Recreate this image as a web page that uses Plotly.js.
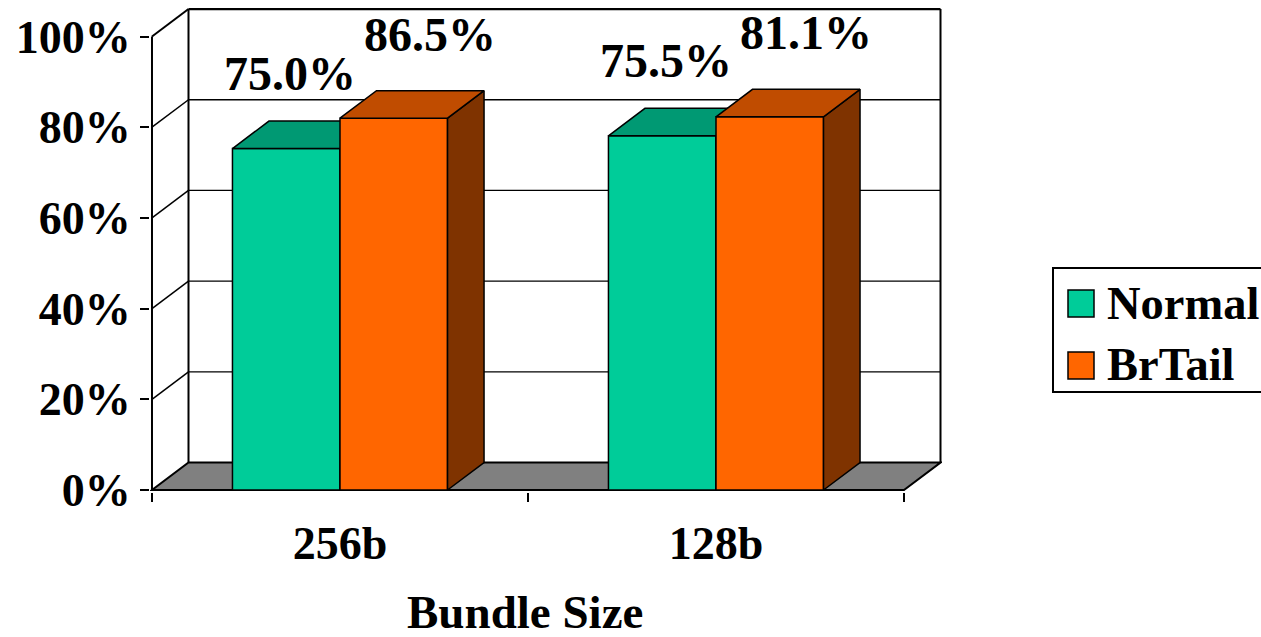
<!DOCTYPE html>
<html>
<head>
<meta charset="utf-8">
<script src="https://cdn.plot.ly/plotly-3.0.1.min.js"></script>
<style>html,body{margin:0;padding:0;background:#fff;}#chart{width:1261px;height:637px;}</style>
</head>
<body>
<div id="chart"></div>
<script>
// ---- data ----
const categories = ['256b', '128b'];
const seriesNames = ['Normal', 'BrTail'];
const normalValues = [75.3, 78.1];
const brtailValues = [82.0, 82.3];
const normalLabels = ['75.0%', '75.5%'];
const brtailLabels = ['86.5%', '81.1%'];
const yTickVals = [0, 20, 40, 60, 80, 100];
const yTickText = ['0%', '20%', '40%', '60%', '80%', '100%'];
const xTitle = 'Bundle Size';

// ---- style ----
const FAMILY = 'Liberation Serif, Times New Roman, serif';
const FONT = {family: FAMILY, size: 46, color: '#000', weight: 'bold'};
const LABEL_FONT = {family: FAMILY, size: 48, color: '#000', weight: 'bold'};
const LEGEND_FONT = {family: FAMILY, size: 46.5, color: '#000', weight: 'bold'};
const TITLE_FONT = {family: FAMILY, size: 47, color: '#000', weight: 'bold'};
const colors = {
  Normal: {front: '#00CC99', top: '#009973', side: '#006B50'},
  BrTail: {front: '#FF6600', top: '#C04C00', side: '#7F3300'}
};
const W = 0.286;          // bar width (category units)
const DX = 0.0971;        // depth offset x (category units)
const DY = 6.06;          // depth offset y (percent units)
const XR = [-0.5053, 1.6011];
const YR = [-0.441, 106.29];
const M = {l: 150, r: 319, t: 8, b: 145};
const PW = 1261 - M.l - M.r, PH = 637 - M.t - M.b;
const px = v => (v - M.l) / PW;
const py = v => (637 - M.b - v) / PH;

const traces = [];
function addSeries(name, values, offsetSign, xa, ya) {
  const c = colors[name];
  const xs = categories.map((_, i) => i);
  traces.push({
    type: 'bar', name: name, x: xs, y: values, base: 0,
    offset: offsetSign < 0 ? -W : 0, width: W,
    marker: {color: c.front, line: {color: '#000', width: 1.5}},
    xaxis: xa, yaxis: ya, showlegend: false, hoverinfo: 'name+y'
  });
  values.forEach((h, i) => {
    const x0 = i + (offsetSign < 0 ? -W : 0), x1 = x0 + W;
    // side face
    traces.push({
      type: 'scatter', mode: 'lines', fill: 'toself', fillcolor: c.side,
      x: [x1, x1, x1 + DX, x1 + DX, x1], y: [0, h, h + DY, DY, 0],
      line: {color: '#000', width: 1.5}, xaxis: xa, yaxis: ya, showlegend: false, hoverinfo: 'skip'
    });
    // top face
    traces.push({
      type: 'scatter', mode: 'lines', fill: 'toself', fillcolor: c.top,
      x: [x0, x1, x1 + DX, x0 + DX, x0], y: [h, h, h + DY, h + DY, h],
      line: {color: '#000', width: 1.5}, xaxis: xa, yaxis: ya, showlegend: false, hoverinfo: 'skip'
    });
  });
}
addSeries('Normal', normalValues, -1, 'x', 'y');
addSeries('BrTail', brtailValues, 1, 'x2', 'y2');

// ---- frame shapes ----
const shapes = [];
const L = -0.5, R = 1.5;
shapes.push({type: 'path', xref: 'x', yref: 'y', layer: 'below',
  path: `M${L},0 L${R},0 L${R + DX},${DY} L${L + DX},${DY} Z`,
  fillcolor: '#808080', line: {color: '#000', width: 2}});
yTickVals.forEach(k => {
  if (k > 0 && k < 100) {
    shapes.push({type: 'line', xref: 'x', yref: 'y', layer: 'below',
      x0: L + DX, y0: k + DY, x1: R + DX, y1: k + DY, line: {color: '#000', width: 1.3}});
  }
  if (k > 0) {
    shapes.push({type: 'line', xref: 'x', yref: 'y', layer: 'below',
      x0: L, y0: k, x1: L + DX, y1: k + DY, line: {color: '#000', width: k === 100 ? 2 : 1.5}});
  }
});
const maxV = yTickVals[yTickVals.length - 1];
shapes.push({type: 'line', xref: 'x', yref: 'y', layer: 'below', x0: L + DX, y0: DY, x1: L + DX, y1: maxV + DY, line: {color: '#000', width: 2}});
shapes.push({type: 'line', xref: 'x', yref: 'y', layer: 'below', x0: R + DX, y0: DY, x1: R + DX, y1: maxV + DY, line: {color: '#000', width: 2}});
shapes.push({type: 'line', xref: 'x', yref: 'y', layer: 'below', x0: L + DX, y0: maxV + DY, x1: R + DX, y1: maxV + DY, line: {color: '#000', width: 2.5}});
shapes.push({type: 'line', xref: 'x', yref: 'y', layer: 'below', x0: L, y0: 0, x1: L, y1: maxV, line: {color: '#000', width: 2}});

// ---- legend (manual) ----
shapes.push({type: 'rect', xref: 'paper', yref: 'paper', x0: px(1053), x1: px(1275), y0: py(268), y1: py(392),
  line: {color: '#000', width: 2}, fillcolor: 'rgba(0,0,0,0)'});
const annotations = [];
seriesNames.forEach((n, i) => {
  const top = 290 + i * 62;
  shapes.push({type: 'rect', xref: 'paper', yref: 'paper', x0: px(1068), x1: px(1094), y0: py(top), y1: py(top + 27),
    fillcolor: colors[n].front, line: {color: '#000', width: 1.5}});
  annotations.push({xref: 'paper', yref: 'paper', x: px(1105), y: py(top + 13), xanchor: 'left', yanchor: 'middle',
    text: n, showarrow: false, font: LEGEND_FONT});
});

// ---- data labels ----
normalLabels.forEach((t, i) => {
  annotations.push({xref: 'x', yref: 'y', x: i - W / 2, y: normalValues[i], xshift: 3.5, yshift: 75,
    xanchor: 'center', yanchor: 'middle', text: t, showarrow: false, font: LABEL_FONT});
});
brtailLabels.forEach((t, i) => {
  annotations.push({xref: 'x', yref: 'y', x: i + W / 2, y: brtailValues[i], xshift: 36.5, yshift: 84,
    xanchor: 'center', yanchor: 'middle', text: t, showarrow: false, font: LABEL_FONT});
});
// axis title
annotations.push({xref: 'x', yref: 'paper', x: 0.5, y: py(612), xshift: -3, xanchor: 'center', yanchor: 'middle',
  text: xTitle, showarrow: false, font: TITLE_FONT});

const layout = {
  width: 1261, height: 637, margin: M,
  paper_bgcolor: '#fff', plot_bgcolor: 'rgba(0,0,0,0)',
  showlegend: false, barmode: 'overlay',
  xaxis: {range: XR, tickvals: categories.map((_, i) => i), ticktext: categories, ticks: '',
    showgrid: false, zeroline: false, showline: false, tickfont: FONT, ticklabelstandoff: 20,
    minor: {tickvals: [-0.5, 0.5, 1.5], ticks: 'outside', ticklen: 9, tickwidth: 2, tickcolor: '#000', showgrid: false}},
  yaxis: {range: YR, tickvals: yTickVals, ticktext: yTickText, ticks: 'outside', ticklen: 9, tickwidth: 2, tickcolor: '#000',
    showgrid: false, zeroline: false, showline: false, tickfont: FONT},
  xaxis2: {range: XR, overlaying: 'x', visible: false},
  yaxis2: {range: YR, overlaying: 'y', visible: false},
  shapes: shapes, annotations: annotations
};
Plotly.newPlot('chart', traces, layout, {displayModeBar: false, staticPlot: true});
</script>
</body>
</html>
